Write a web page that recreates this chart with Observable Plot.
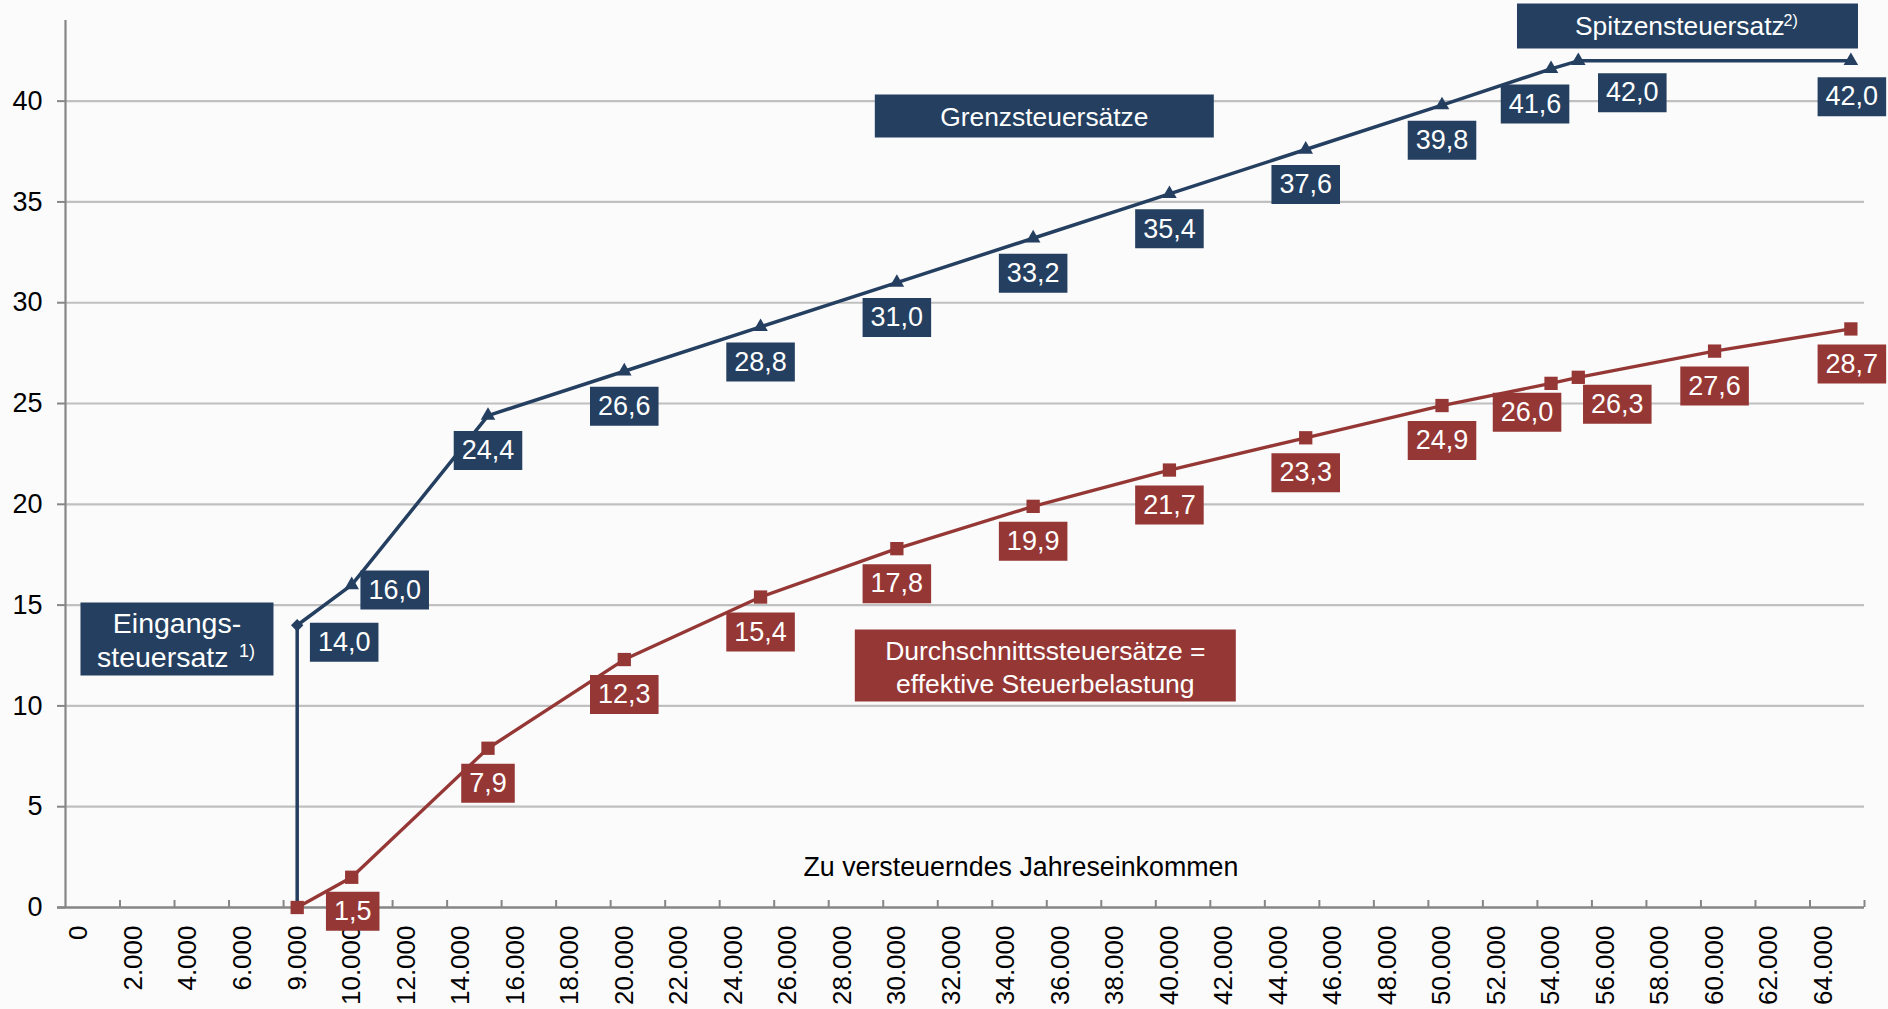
<!DOCTYPE html>
<html>
<head>
<meta charset="utf-8">
<script src="https://cdn.jsdelivr.net/npm/d3@7"></script>
<script src="https://cdn.jsdelivr.net/npm/@observablehq/plot@0.6"></script>
<style>
  html, body { margin: 0; padding: 0; background: #fbfbfb; }
  #chart svg { display: block; }
</style>
</head>
<body>
<div id="chart"></div>
<script>
// ---------------- DATA ----------------
// x positions follow the category axis of the original (one category per 1.000 €)
const xTickValues = d3.range(0, 64001, 2000);
const xTickLabels = ["0", "2.000", "4.000", "6.000", "9.000", "10.000", "12.000", "14.000", "16.000",
  "18.000", "20.000", "22.000", "24.000", "26.000", "28.000", "30.000", "32.000", "34.000", "36.000",
  "38.000", "40.000", "42.000", "44.000", "46.000", "48.000", "50.000", "52.000", "54.000", "56.000",
  "58.000", "60.000", "62.000", "64.000"];
const yTickValues = [0, 5, 10, 15, 20, 25, 30, 35, 40];

// Grenzsteuersätze (marginal rates)
const marginalIncome = [8000, 8000, 10000, 15000, 20000, 25000, 30000, 35000, 40000, 45000, 50000, 54000, 55000, 65000];
const marginalRate   = [0, 14.0, 16.0, 24.4, 26.6, 28.8, 31.0, 33.2, 35.4, 37.6, 39.8, 41.6, 42.0, 42.0];

// Durchschnittssteuersätze (average rates)
const averageIncome = [8000, 10000, 15000, 20000, 25000, 30000, 35000, 40000, 45000, 50000, 54000, 55000, 60000, 65000];
const averageRate   = [0, 1.5, 7.9, 12.3, 15.4, 17.8, 19.9, 21.7, 23.3, 24.9, 26.0, 26.3, 27.6, 28.7];

const axisTitle = "Zu versteuerndes Jahreseinkommen";

// ---------------- LAYOUT / STYLE ----------------
const W = 1888, H = 1009;
const mL = 65, mR = 24, mT = 20, mB = 102;
const xDom = [-500, 65500], yDom = [0, 44];
const uX = (xDom[1] - xDom[0]) / (W - mL - mR);   // data units per pixel (x)
const uY = (yDom[1] - yDom[0]) / (H - mT - mB);   // data units per pixel (y)

const BLUE = "#243f60", RED = "#953735";
const FONT = "'Liberation Sans', Arial, Helvetica, sans-serif";
const FS = 26;
const FSL = 27;

// pixel offsets of the value-label boxes relative to their point
const blueOffsets = [null, [47, 17], [43, 5], [0, 35], [0, 35], [0, 35], [0, 35], [0, 35], [0, 35], [0, 35], [0, 35], [-16, 35], [54, 32], [1, 36]];
const redOffsets  = [null, [1, 34], [0, 35], [0, 35], [0, 35], [0, 35], [0, 35], [0, 35], [0, 35], [0, 35], [-24, 29], [39, 27], [0, 35], [1, 35]];

const fmt = v => d3.format(".1f")(v).replace(".", ",");
const canvas = document.createElement("canvas").getContext("2d");
canvas.font = `${FSL}px ${FONT}`;
const textW = s => canvas.measureText(s).width;

const boxSymbol = (w, h) => ({
  draw(ctx) {
    ctx.moveTo(-w / 2, -h / 2); ctx.lineTo(w / 2, -h / 2);
    ctx.lineTo(w / 2, h / 2); ctx.lineTo(-w / 2, h / 2); ctx.closePath();
  }
});

const blueData = marginalIncome.map((x, i) => ({x, y: marginalRate[i], i}));
const redData = averageIncome.map((x, i) => ({x, y: averageRate[i], i}));

function labelMarks(data, offsets, color) {
  const marks = [];
  data.forEach((d, i) => {
    const off = offsets[i];
    if (!off) return;
    const lx = d.x + off[0] * uX, ly = d.y - off[1] * uY;
    const t = fmt(d.y);
    marks.push(Plot.dot([{lx, ly}], {x: "lx", y: "ly", symbol: boxSymbol(textW(t) + 16, 39), fill: color, stroke: null}));
    marks.push(Plot.text([{lx, ly, t}], {x: "lx", y: "ly", text: "t", fill: "white", fontSize: FSL}));
  });
  return marks;
}

function annBox(x, y, w, h, color) {
  return Plot.dot([{x, y}], {x: "x", y: "y", symbol: boxSymbol(w, h), fill: color, stroke: null});
}

const boundaries = d3.range(1500, 65501, 2000);
const tickLenY = 7 * uY;
const labelOf = new Map(xTickValues.map((v, i) => [v, xTickLabels[i]]));

const chart = Plot.plot({
  width: W, height: H,
  marginLeft: mL, marginRight: mR, marginTop: mT, marginBottom: mB,
  x: {domain: xDom},
  y: {domain: yDom},
  style: {fontFamily: FONT, fontSize: `${FS}px`, background: "transparent", color: "#000"},
  marks: [
    // grid
    Plot.ruleY(yTickValues.filter(v => v > 0), {x1: xDom[0], x2: xDom[1], stroke: "#c0c0c0", strokeWidth: 2.2}),
    // axes lines
    Plot.ruleX([xDom[0]], {y1: 0, y2: yDom[1], stroke: "#868686", strokeWidth: 2.2}),
    Plot.ruleY([0], {x1: xDom[0] - 8 * uX, x2: xDom[1], stroke: "#868686", strokeWidth: 2.5}),
    Plot.ruleX(boundaries, {y1: 0, y2: tickLenY, stroke: "#868686", strokeWidth: 2}),
    Plot.axisY({ticks: yTickValues, tickSize: 8, tickPadding: 15, stroke: "#868686", strokeWidth: 2, fill: "#000", fontSize: FSL, label: null, tickFormat: d => String(d)}),
    Plot.axisX({ticks: xTickValues, tickSize: 0, tickPadding: 18, tickRotate: -90, fill: "#000", fontSize: FS, label: null, tickFormat: d => labelOf.get(d)}),
    Plot.text([{x: 34550, y: 1.98}], {x: "x", y: "y", text: () => axisTitle, fill: "#000", fontSize: 26.8}),

    // lines
    Plot.line(blueData, {x: "x", y: "y", stroke: BLUE, strokeWidth: 3.5}),
    Plot.line(redData, {x: "x", y: "y", stroke: RED, strokeWidth: 3.3}),

    // markers
    Plot.dot(blueData.filter(d => d.i >= 2), {x: "x", y: "y", symbol: "triangle", r: 5.4, fill: BLUE, stroke: null}),
    Plot.dot(blueData.filter(d => d.i === 1), {x: "x", y: "y", symbol: "diamond2", r: 5.6, fill: BLUE, stroke: null}),
    Plot.dot(redData, {x: "x", y: "y", symbol: "square", r: 7.5, fill: RED, stroke: null}),

    // value labels
    ...labelMarks(blueData, blueOffsets, BLUE),
    ...labelMarks(redData, redOffsets, RED),

    // annotation: Eingangssteuersatz
    annBox(3590, 13.32, 193, 73, BLUE),
    Plot.text([{x: 3590, y: 13.32}], {x: "x", y: "y", text: () => "Eingangs-", fill: "white", fontSize: 28.5, dy: -15.5}),
    Plot.text([{x: 3590, y: 13.32}], {x: "x", y: "y", text: () => "steuersatz", fill: "white", fontSize: 28.5, textAnchor: "start", dx: -80, dy: 18.5}),
    Plot.text([{x: 3590, y: 13.32}], {x: "x", y: "y", text: () => "1)", fill: "white", fontSize: 18, textAnchor: "start", dx: 62, dy: 12}),

    // annotation: Grenzsteuersätze
    annBox(35410, 39.26, 339, 43, BLUE),
    Plot.text([{x: 35410, y: 39.26}], {x: "x", y: "y", text: () => "Grenzsteuersätze", fill: "white", fontSize: 26.4, dy: 1}),

    // annotation: Spitzensteuersatz
    annBox(59006, 43.73, 341, 45, BLUE),
    Plot.text([{x: 59006, y: 43.73}], {x: "x", y: "y", text: () => "Spitzensteuersatz", fill: "white", fontSize: 26.4, textAnchor: "start", dx: -112.5, dy: 1}),
    Plot.text([{x: 59006, y: 43.73}], {x: "x", y: "y", text: () => "2)", fill: "white", fontSize: 16, textAnchor: "start", dx: 96, dy: -5}),

    // annotation: Durchschnittssteuersätze
    annBox(35446, 12.0, 381, 72, RED),
    Plot.text([{x: 35446, y: 12.0}], {x: "x", y: "y", text: () => "Durchschnittssteuersätze =\neffektive Steuerbelastung", fill: "white", fontSize: 26.5, lineHeight: 1.25, dy: 0})
  ]
});
document.getElementById("chart").appendChild(chart);
</script>
</body>
</html>
